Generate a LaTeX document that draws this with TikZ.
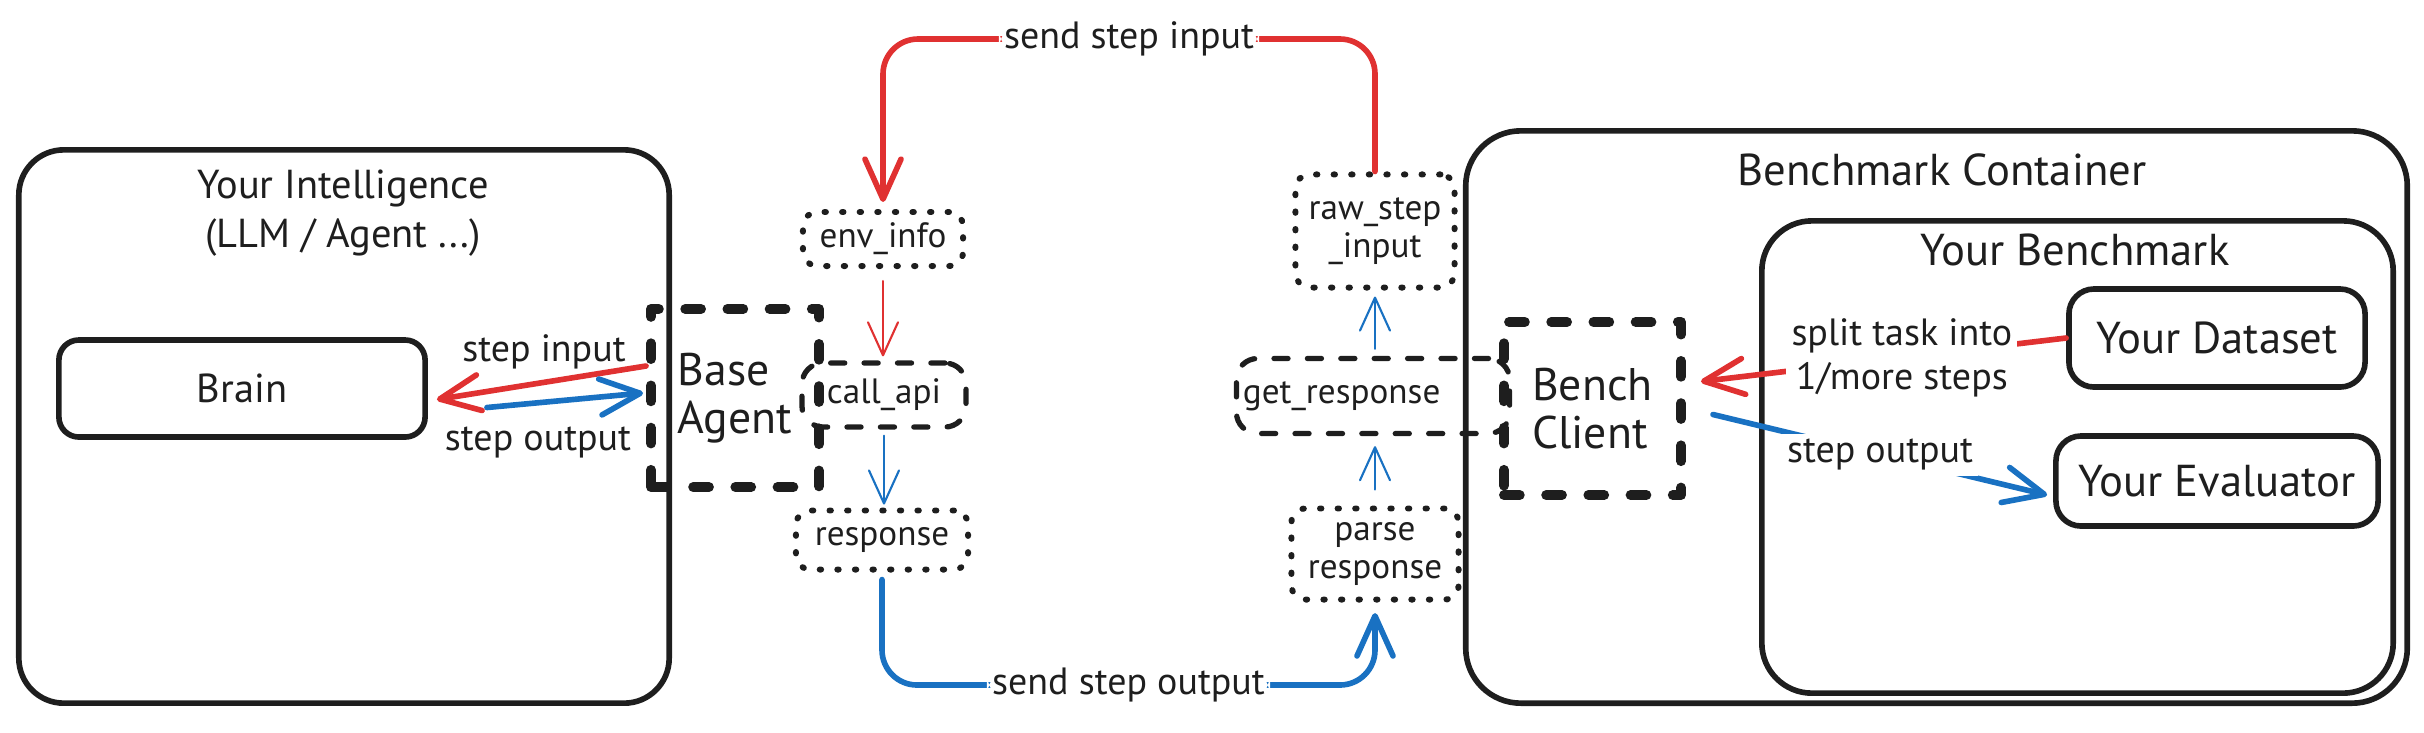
\documentclass[tikz,border=0pt]{standalone}
\usepackage{fontspec}
\setmainfont{PT Sans}
\usetikzlibrary{arrows.meta,calc}
\definecolor{inkred}{HTML}{E03131}
\definecolor{inkblue}{HTML}{1971C2}
\definecolor{ink}{HTML}{1E1E1E}
\newcommand\lblfont{\fontsize{10.8}{12.5}\selectfont}
\newcommand\boxfont{\fontsize{10}{11}\selectfont}
\newcommand\hdfont{\fontsize{11.5}{14}\selectfont}
\newcommand\bigfont{\fontsize{12.7}{14}\selectfont}
\newcommand\agentfont{\fontsize{13}{13.5}\selectfont}
\begin{document}
\begin{tikzpicture}[x=0.01cm, y=-0.01cm, line cap=round, line join=round, color=ink,
        solidbox/.style = {draw, line width=1.6pt, rounded corners=#1, inner sep=0pt, align=center},
        dotbox/.style = {draw, line width=1.7pt, dash pattern=on 0.4pt off 4.6pt, rounded corners=4pt,
                        inner sep=0pt, align=center, font=\boxfont},
        dashbox/.style = {draw, line width=1.5pt, dash pattern=on 4pt off 5.5pt, rounded corners=6pt,
                        inner sep=0pt, font=\boxfont},
        thickdash/.style = {draw, line width=2.8pt, dash pattern=on 4.5pt off 7.5pt, inner sep=0pt, align=left},
        lbl/.style = {fill=white, inner sep=1.5pt, align=center, text=ink, font=\lblfont},
        bigtip/.style = {-{Straight Barb[round, length=0.4cm, width=0.36cm]}, line width=1.6pt},
        thintip/.style = {-{Straight Barb[round, length=0.33cm, width=0.3cm]}, line width=0.6pt}]
    \useasboundingbox (0,0) rectangle (2424,732);
    \node[solidbox=0.45cm, minimum width=6.5cm, minimum height=5.53cm] (intel) at (344,426.5) {};
    \node[font=\hdfont, align=center] (inteltitle) at (343,213) {Your Intelligence\\(LLM / Agent ...)};
    \node[solidbox=0.2cm, minimum width=3.66cm, minimum height=0.97cm, font=\hdfont] (brain) at (242,388.5) {Brain};
    \node[thickdash, minimum width=1.68cm, minimum height=1.78cm, font=\agentfont] (agent) at (735,398) {Base\\Agent};
    \node[font=\lblfont] (stepin) at (544,352) {step input};
    \node[font=\lblfont] (stepout) at (538,442) {step output};

    \node[dotbox, minimum width=1.6cm, minimum height=0.54cm] (envinfo) at (883,239) {env\_info};
    \node[dashbox, minimum width=1.64cm, minimum height=0.64cm] (callapi) at (884,395) {call\_api};
    \node[dotbox, minimum width=1.72cm, minimum height=0.59cm] (response) at (882,540) {response};

    \node[dotbox, minimum width=1.59cm, minimum height=1.13cm] (rawstep) at (1375,231) {raw\_step\\\_input};
    \node[dashbox, minimum width=2.73cm, minimum height=0.75cm, text width=2.6cm, align=left] (getresp) at (1373,396) {get\_response};
    \node[dotbox, minimum width=1.67cm, minimum height=0.91cm] (parse) at (1375,554) {parse\\response};

    \node[solidbox=0.55cm, minimum width=9.41cm, minimum height=5.72cm] (container) at (1936.5,417) {};
    \node[font=\bigfont] (containertitle) at (1942,170) {Benchmark Container};
    \node[thickdash, minimum width=1.77cm, minimum height=1.73cm, font=\agentfont] (bench) at (1592.5,408.5) {Bench\\Client};
    \node[solidbox=0.5cm, minimum width=6.31cm, minimum height=4.72cm] (yourbench) at (2077.5,457) {};
    \node[font=\bigfont] (yourbenchtitle) at (2075,250) {Your Benchmark};
    \node[solidbox=0.25cm, minimum width=2.96cm, minimum height=0.98cm, font=\bigfont] (dataset) at (2217,338) {Your Dataset};
    \node[solidbox=0.25cm, minimum width=3.22cm, minimum height=0.9cm, font=\bigfont] (evaluator) at (2217,481) {Your Evaluator};

    \coordinate (topleft) at (883,39);
    \coordinate (botright) at (1375,685);
    \draw[inkred, bigtip, rounded corners=0.35cm, shorten >=2pt] (rawstep.north) |- node[lbl, pos=0.75] (sendin) {send step input} (topleft) -- (envinfo.north);
    \draw[inkblue, bigtip, rounded corners=0.35cm, shorten <=2pt, shorten >=3pt] (response.south) |- node[lbl, pos=0.75] (sendout) {send step output} (botright) -- (parse.south);

    \draw[inkred, thintip, shorten <=0.12cm, shorten >=0.04cm] (envinfo.south) -- (envinfo.south |- callapi.north);
    \draw[inkblue, thintip, shorten <=0.06cm, shorten >=0.03cm] (callapi.south) -- (callapi.south |- response.north);
    \draw[inkblue, thintip, shorten <=0.16cm, shorten >=0.1cm] (parse.north) -- (parse.north |- getresp.south);
    \draw[inkblue, thintip, shorten <=0.07cm, shorten >=0.06cm] (rawstep.south |- getresp.north) -- (rawstep.south);

    \draw[inkred, bigtip] ($(agent.west)+(0,-32)$) -- ($(brain.east)+(9,11)$);
    \draw[inkblue, bigtip] ($(brain.east)+(59,19)$) -- ($(agent.west)+(-3,-5)$);
    \draw[inkred, bigtip] (dataset.west) -- node[lbl, pos=0.45] (split) {split task into\\1/more steps} ($(bench.east)+(15,-27)$);
    \draw[inkblue, bigtip] ($(bench.east)+(27,6)$) -- node[lbl] (stepout2) {step output} ($(evaluator.west)+(-6,14)$);
\end{tikzpicture}
\end{document}
